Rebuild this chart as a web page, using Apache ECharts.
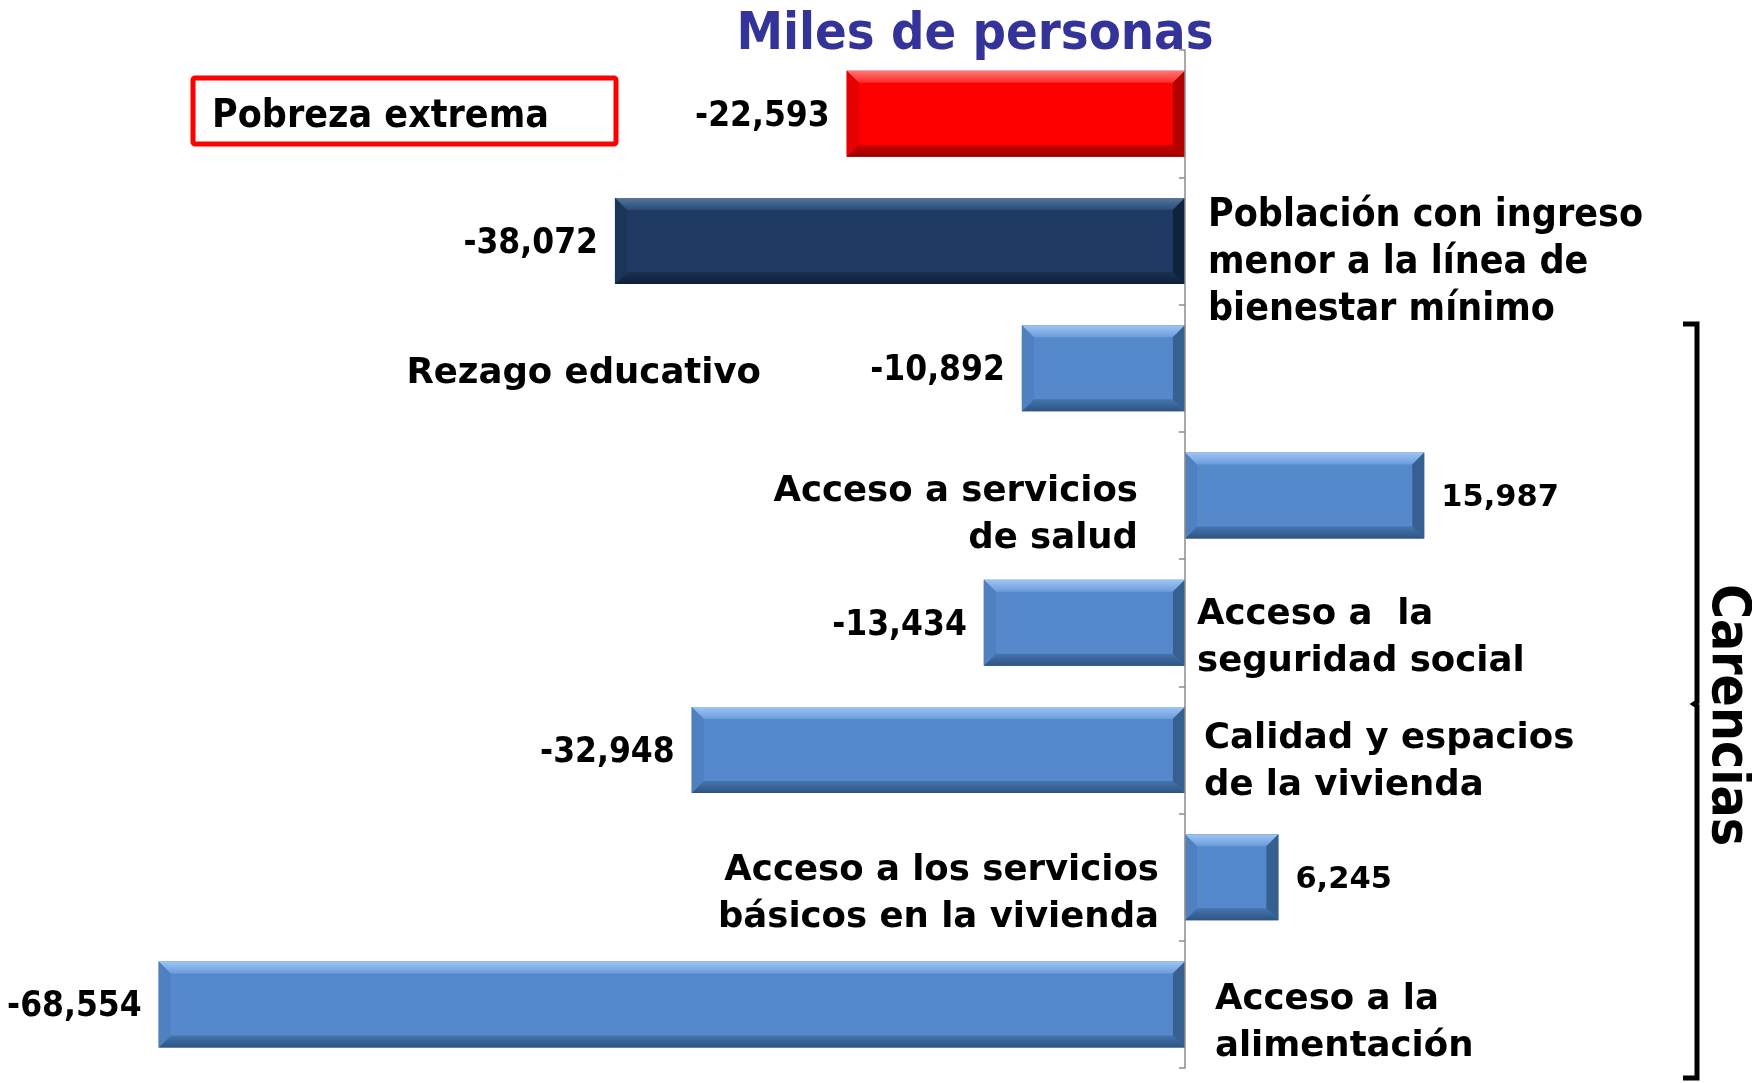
<!DOCTYPE html>
<html>
<head>
<meta charset="utf-8">
<script src="https://cdn.jsdelivr.net/npm/echarts@6/dist/echarts.min.js"></script>
<style>
  html, body { margin: 0; padding: 0; background: #fff; }
  #main { width: 1752px; height: 1083px; }
</style>
</head>
<body>
<div id="main"></div>
<script>
// categorías (de arriba hacia abajo)
const categories = [
  'Pobreza extrema',
  'Población con ingreso menor a la línea de bienestar mínimo',
  'Rezago educativo',
  'Acceso a servicios de salud',
  'Acceso a la seguridad social',
  'Calidad y espacios de la vivienda',
  'Acceso a los servicios básicos en la vivienda',
  'Acceso a la alimentación'
];
// variación, miles de personas
const values = [-22593, -38072, -10892, 15987, -13434, -32948, 6245, -68554];
// texto de cada categoría como aparece en la lámina
const labelLines = [
  ['Pobreza extrema'],
  ['Población con ingreso', 'menor a la línea de', 'bienestar mínimo'],
  ['Rezago educativo'],
  ['Acceso a servicios', 'de salud'],
  ['Acceso a  la', 'seguridad social'],
  ['Calidad y espacios', 'de la vivienda'],
  ['Acceso a los servicios', 'básicos en la vivienda'],
  ['Acceso a la', 'alimentación']
];
const barKind = ['red', 'navy', 'blue', 'blue', 'blue', 'blue', 'blue', 'blue'];

const NARROW = "'DejaVu Sans Condensed', 'DejaVu Sans', sans-serif";
const WIDE = "'DejaVu Sans', Verdana, sans-serif";

// posición de los textos de categoría (px), fuera de los datos
const labelLayout = [
  { x: 212, align: 'left', dy: 3, font: NARROW, size: 39 },
  { x: 1208, align: 'left', dy: 22, font: NARROW, size: 39 },
  { x: 761, align: 'right', dy: 6, font: WIDE, size: 35.5 },
  { x: 1138, align: 'right', dy: 20, font: WIDE, size: 35.5 },
  { x: 1197, align: 'left', dy: 16, font: WIDE, size: 35.5 },
  { x: 1204, align: 'left', dy: 12, font: WIDE, size: 35.5 },
  { x: 1159, align: 'right', dy: 17, font: WIDE, size: 35.5 },
  { x: 1215, align: 'left', dy: 19, font: WIDE, size: 35.5 }
];

const BAR_H = 86;
const BEVEL = 12;

// cara frontal + biseles (arriba, abajo, izquierda, derecha)
const palette = {
  red: { face: '#ff0000', border: '#b80000', top: ['#ff7a7a', '#ff2a2a'], bottom: ['#d00000', '#9a0000'], left: '#e60000', right: '#b30000' },
  navy: { face: '#1f3b63', border: '#13294a', top: ['#56769f', '#2a4a78'], bottom: ['#1a3252', '#0e1f37'], left: '#1b3558', right: '#10233d' },
  blue: { face: '#5589cb', border: '#3d6699', top: ['#9fc5f3', '#6a9ddd'], bottom: ['#4575b0', '#2f5482'], left: '#4f80bf', right: '#36608f' }
};

const vgrad = (a, b) => new echarts.graphic.LinearGradient(0, 0, 0, 1, [
  { offset: 0, color: a }, { offset: 1, color: b }
]);

const fmt = (v) => v.toLocaleString('en-US');

const chart = echarts.init(document.getElementById('main'));

function renderBevel(params, api) {
  const v = api.value(0);
  const idx = api.value(1);
  const p0 = api.coord([0, idx]);
  const p1 = api.coord([v, idx]);
  const xL = Math.min(p0[0], p1[0]);
  const xR = Math.max(p0[0], p1[0]);
  const yT = p0[1] - BAR_H / 2;
  const yB = p0[1] + BAR_H / 2;
  const b = Math.min(BEVEL, (xR - xL) / 2);
  const pal = palette[barKind[params.dataIndex]];
  const poly = (pts, fill) => ({ type: 'polygon', shape: { points: pts }, style: { fill: fill }, silent: true });
  return {
    type: 'group',
    children: [
      poly([[xL, yT], [xR, yT], [xR - b, yT + b], [xL + b, yT + b]], vgrad(pal.top[0], pal.top[1])),
      poly([[xL, yB], [xR, yB], [xR - b, yB - b], [xL + b, yB - b]], vgrad(pal.bottom[0], pal.bottom[1])),
      poly([[xL, yT], [xL + b, yT + b], [xL + b, yB - b], [xL, yB]], pal.left),
      poly([[xR, yT], [xR - b, yT + b], [xR - b, yB - b], [xR, yB]], pal.right)
    ]
  };
}

const option = {
  backgroundColor: '#ffffff',
  animation: false,
  title: {
    text: 'Miles de personas',
    left: 975,
    top: 9,
    padding: 0,
    textAlign: 'center',
    textStyle: { color: '#333399', fontSize: 52, fontWeight: 'bold', fontFamily: NARROW }
  },
  grid: { left: 137, right: 118, top: 50, bottom: 15 },
  xAxis: {
    type: 'value',
    min: -70000,
    max: 30000,
    show: false,
    splitLine: { show: false }
  },
  yAxis: {
    type: 'category',
    inverse: true,
    data: categories,
    axisLine: { lineStyle: { color: '#8c8c8c', width: 1.5 } },
    axisTick: { show: true, length: 6, lineStyle: { color: '#8c8c8c', width: 1.5 } },
    axisLabel: { show: false },
    z: 5
  },
  series: [{
    type: 'bar',
    barWidth: BAR_H,
    data: values.map((v, i) => ({
      value: v,
      itemStyle: {
        color: palette[barKind[i]].face,
        borderColor: palette[barKind[i]].border,
        borderWidth: 1.5
      },
      label: {
        show: true,
        position: v < 0 ? 'left' : 'right',
        distance: 17,
        offset: [0, 3],
        formatter: () => fmt(v),
        color: '#000',
        fontWeight: 'bold',
        fontSize: v < 0 ? 35 : 30.5,
        fontFamily: v < 0 ? NARROW : WIDE
      }
    }))
  }, {
    type: 'custom',
    renderItem: renderBevel,
    encode: { x: 0, y: 1 },
    data: values.map((v, i) => [v, i]),
    z: 3,
    silent: true
  }]
};

chart.setOption(option);

// textos de categoría, recuadro, llave y "Carencias"
const graphics = [];
labelLines.forEach((lines, i) => {
  const lay = labelLayout[i];
  const y = chart.convertToPixel({ yAxisIndex: 0 }, categories[i]) + lay.dy;
  graphics.push({
    type: 'text',
    x: lay.x,
    y: y,
    style: {
      text: lines.join('\n'),
      fill: '#000',
      font: 'bold ' + lay.size + 'px ' + lay.font,
      lineHeight: 47,
      align: lay.align,
      verticalAlign: 'middle'
    }
  });
});

graphics.push({
  type: 'rect',
  shape: { x: 193, y: 78, width: 423, height: 66, r: 2 },
  style: { fill: 'none', stroke: '#ff0000', lineWidth: 5 }
});

graphics.push({
  type: 'polyline',
  shape: { points: [[1683, 324], [1697, 324], [1697, 702], [1694, 704], [1697, 706], [1697, 1078], [1683, 1078]] },
  style: { stroke: '#000', lineWidth: 5, fill: 'none' }
});

graphics.push({
  type: 'text',
  x: 1727,
  y: 715,
  rotation: -Math.PI / 2,
  style: {
    text: 'Carencias',
    fill: '#000',
    font: 'bold 53px ' + NARROW,
    align: 'center',
    verticalAlign: 'middle'
  }
});

chart.setOption({ graphic: graphics });
</script>
</body>
</html>
